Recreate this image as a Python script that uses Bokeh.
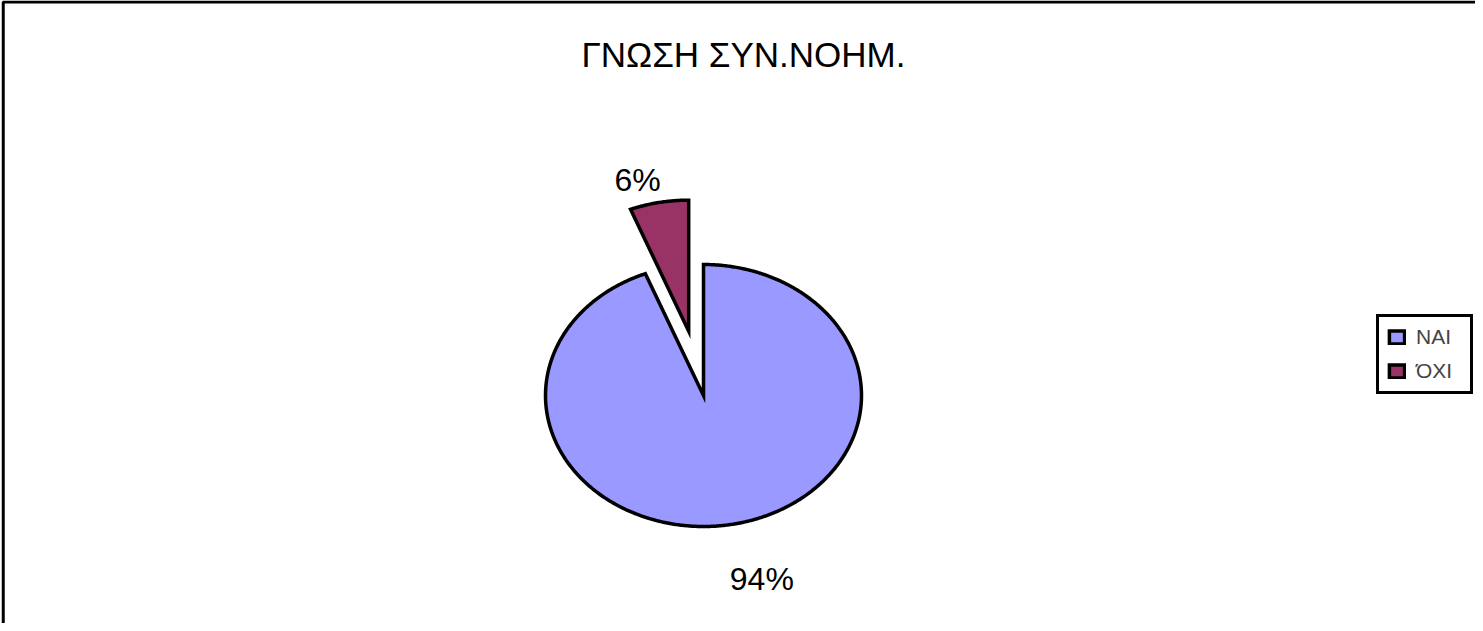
import math
from bokeh.plotting import figure
from bokeh.models import Range1d, Legend, LegendItem, ColumnDataSource
from bokeh.core.properties import value
from bokeh.embed import file_html
from bokeh.resources import INLINE

# ---- data ----
title_text = "ΓΝΩΣΗ ΣΥΝ.ΝΟΗΜ."
categories = ["ΝΑΙ", "ΌΧΙ"]
percent = [94, 6]
colors = ["#9999FF", "#993366"]

# ---- layout ----
W, H = 1475, 623
PIE_CX, PIE_CY = 703.0, 228.0   # pie centre on the canvas (px, y up)
PIE_RX, PIE_RY = 158.0, 131.0   # pie radii in px (unit circle in data space)
EXPLODE = [0.0, 0.5]            # explosion distance (pie radii)
LABEL_DIST = [1.445, 1.70]      # label baseline distance (pie radii)
LABEL_SHIFT = [4.0, 3.4]        # degrees, label angle relative to slice middle
TITLE_POS = (0.253, 2.603)
FONT = "Liberation Sans"

x0, x1 = -PIE_CX / PIE_RX, (W - PIE_CX) / PIE_RX
y0, y1 = -PIE_CY / PIE_RY, (H - PIE_CY) / PIE_RY
p = figure(width=W, height=H, x_range=Range1d(x0, x1), y_range=Range1d(y0, y1),
           output_backend="svg", toolbar_location=None, min_border=0,
           x_axis_type=None, y_axis_type=None)
p.grid.visible = False
p.outline_line_color = None
p.background_fill_color = "white"
p.border_fill_color = "white"

# slices from data (clockwise from 12 o'clock), unit circle in data space
total = float(sum(percent))
px, py, mids = [], [], []
cum = 0.0
for v, ex in zip(percent, EXPLODE):
    a0 = 90.0 - cum / total * 360.0
    a1 = 90.0 - (cum + v) / total * 360.0
    mid = (a0 + a1) / 2.0
    mids.append(mid)
    cx = ex * math.cos(math.radians(mid))
    cy = ex * math.sin(math.radians(mid))
    n = max(8, int(abs(a1 - a0) * 2))
    xs = [cx] + [cx + math.cos(math.radians(a0 + (a1 - a0) * k / n)) for k in range(n + 1)]
    ys = [cy] + [cy + math.sin(math.radians(a0 + (a1 - a0) * k / n)) for k in range(n + 1)]
    px.append(xs)
    py.append(ys)
    cum += v

src = ColumnDataSource(dict(xs=px, ys=py, c=colors, cat=categories))
wr = p.patches(xs="xs", ys="ys", fill_color="c", line_color="black", line_width=3.5,
               line_join="miter", source=src)

# percentage labels
lx, ly, lt = [], [], []
for v, mid, d, sh in zip(percent, mids, LABEL_DIST, LABEL_SHIFT):
    a = math.radians(mid + sh)
    lx.append(d * math.cos(a))
    ly.append(d * math.sin(a))
    lt.append(f"{v}%")
p.text(x=lx, y=ly, text=lt, text_align="center", text_baseline="alphabetic",
       text_font=value(FONT), text_font_size="32px", text_color="black")

# title
p.text(x=[TITLE_POS[0]], y=[TITLE_POS[1]], text=[title_text], text_align="center",
       text_baseline="alphabetic", text_font=value(FONT), text_font_size="35px",
       text_color="black")

# chart frame (left and top edges visible; others fall outside the picture)
fx = (2.75 - PIE_CX) / PIE_RX
fy = (H - 1.5 - PIE_CY) / PIE_RY
p.line(x=[fx, fx, x1 + 1], y=[y0 - 1, fy, fy], line_color="black", line_width=3)

legend = Legend(items=[LegendItem(label=categories[i], renderers=[wr], index=i) for i in range(len(categories))],
                location=(1376, 229), border_line_color="black", border_line_width=3,
                border_line_alpha=1.0,
                padding=8, spacing=10, glyph_width=19, glyph_height=16, label_standoff=10,
                label_width=46, label_text_font=FONT, label_text_font_size="21px", margin=0,
                background_fill_color="white", background_fill_alpha=1.0)
p.add_layout(legend)

open("out.html", "w").write(file_html(p, INLINE))
